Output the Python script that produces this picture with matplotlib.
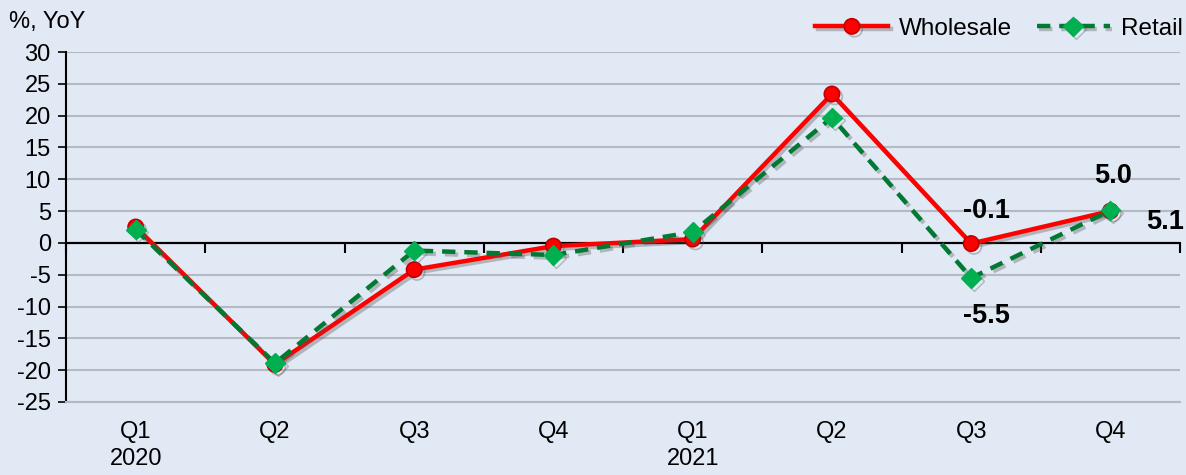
import matplotlib.pyplot as plt
import matplotlib.patheffects as pe
import numpy as np

plt.rcParams['font.family'] = ['Liberation Sans', 'DejaVu Sans']
plt.rcParams['axes.unicode_minus'] = False

quarters = ['Q1\n2020', 'Q2', 'Q3', 'Q4', 'Q1\n2021', 'Q2', 'Q3', 'Q4']
wholesale = [2.5, -19.1, -4.2, -0.5, 0.6, 23.4, -0.1, 5.0]
retail = [2.1, -18.9, -1.2, -1.9, 1.7, 19.7, -5.5, 5.1]

bg = '#E1E9F4'
x = np.arange(len(quarters))

fig = plt.figure(figsize=(11.86, 4.75), dpi=100, facecolor=bg)
ax = fig.add_axes([0.0557, 0.1537, 0.9393, 0.7368], facecolor=bg)

shadow = [pe.SimpleLineShadow(offset=(2, -2), shadow_color='#555555', alpha=0.35), pe.Normal()]

ax.plot(x, wholesale, color='#FF0000', lw=3.2, marker='o', ms=11,
        mfc='#FF0000', mec='#C00000', mew=1.2, label='Wholesale',
        path_effects=shadow, zorder=3)
ax.plot(x, retail, color='#007A33', lw=3.2, ls=(0, (3, 2)), marker='D', ms=10,
        mfc='#00B050', mec='#00B050', label='Retail',
        path_effects=shadow, zorder=4)

ax.set_xlim(-0.5, 7.5)
ax.set_ylim(-25, 30)
ax.set_yticks(range(-25, 31, 5))
ax.set_xticks(x)
ax.set_xticklabels(quarters, linespacing=1.25)
ax.tick_params(axis='x', length=0, pad=14, labelsize=17)
ax.tick_params(axis='y', direction='out', length=6, width=1.2, labelsize=17, pad=5)
ax.yaxis.grid(True, color='#B4BAC4', lw=1.5)
ax.set_axisbelow(True)

for s in ['top', 'right']:
    ax.spines[s].set_visible(False)
ax.spines['bottom'].set_color('#B4BAC4')
ax.spines['bottom'].set_linewidth(1.5)
ax.spines['left'].set_linewidth(1.5)

# zero line with category-boundary ticks
ax.axhline(0, color='black', lw=1.5, zorder=2)
zero = ax.secondary_xaxis(25 / 55)
zero.set_xticks(np.arange(-0.5, 8, 1))
zero.set_xticklabels([])
zero.xaxis.set_ticks_position('bottom')
zero.tick_params(direction='out', length=7, width=1.5, labelbottom=False, labeltop=False)
zero.spines['bottom'].set_linewidth(1.5)

fig.text(0.008, 0.93, '%, YoY', fontsize=17, ha='left', va='bottom')

ax.annotate('-0.1', (6, wholesale[6]), xytext=(11, 14), textcoords='offset points',
            ha='center', va='bottom', fontsize=19.5, fontweight='bold')
ax.annotate('-5.5', (6, retail[6]), xytext=(11, -18), textcoords='offset points',
            ha='center', va='top', fontsize=19.5, fontweight='bold')
ax.annotate('5.0', (7, wholesale[7]), xytext=(2, 16), textcoords='offset points',
            ha='center', va='bottom', fontsize=19.5, fontweight='bold')
ax.annotate('5.1', (7, retail[7]), xytext=(39, -8), textcoords='offset points',
            ha='center', va='center', fontsize=19.5, fontweight='bold')

ax.legend(loc='lower right', bbox_to_anchor=(1.013, 1.0), ncol=2, frameon=False,
          fontsize=17.5, handlelength=3.0, columnspacing=1.0, handletextpad=0.45,
          borderaxespad=0.1)

plt.savefig('out.png', dpi=100, facecolor=bg)
